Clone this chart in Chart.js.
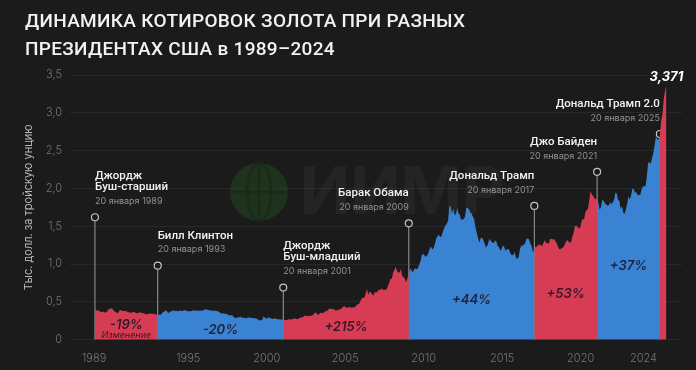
<!DOCTYPE html>
<html>
<head>
<meta charset="utf-8">
<script src="https://cdn.jsdelivr.net/npm/chart.js@4.4.1/dist/chart.umd.min.js"></script>
<style>
  html, body { margin: 0; padding: 0; background: #1b1b1b; }
  #wrap { position: relative; width: 696px; height: 370px; overflow: hidden; }
  #title {
    position: absolute; left: 25px; top: 7px;
    color: #f2f2f2; font-family: Roboto, sans-serif; font-weight: 500;
    font-size: 19px; line-height: 28px; letter-spacing: 0.3px;
  }
  canvas { position: absolute; left: 0; top: 0; }
</style>
</head>
<body>
<div id="wrap">
  <canvas id="chart" width="696" height="370"></canvas>
  <div id="title">ДИНАМИКА КОТИРОВОК ЗОЛОТА ПРИ РАЗНЫХ<br>ПРЕЗИДЕНТАХ США в 1989–2024</div>
</div>
<script>
// gold, USD per troy ounce, monthly, starting January 1989
const firstYear = 1989;
const goldMonthly = [
  404, 388, 390, 384, 371, 367, 375, 365, 362, 367, 394, 409, // 1989
  410, 416, 393, 374, 369, 352, 362, 395, 389, 380, 381, 378, // 1990
  384, 364, 363, 358, 357, 367, 368, 357, 349, 358, 360, 361, // 1991
  354, 354, 345, 338, 337, 341, 352, 343, 345, 344, 335, 334, // 1992
  329, 330, 330, 342, 367, 371, 392, 379, 355, 364, 374, 383, // 1993
  387, 382, 384, 377, 381, 385, 385, 380, 391, 389, 384, 379, // 1994
  379, 376, 382, 391, 385, 387, 386, 383, 383, 383, 386, 387, // 1995
  400, 405, 396, 393, 392, 385, 383, 387, 383, 381, 378, 369, // 1996
  355, 347, 352, 344, 344, 341, 324, 324, 323, 325, 306, 289, // 1997
  289, 297, 296, 308, 299, 292, 293, 284, 289, 296, 294, 291, // 1998
  287, 288, 286, 282, 277, 262, 256, 257, 265, 311, 293, 283, // 1999
  284, 300, 286, 280, 275, 285, 282, 274, 273, 270, 266, 272, // 2000
  265, 262, 263, 261, 272, 270, 268, 273, 283, 283, 276, 276, // 2001
  282, 296, 294, 302, 314, 322, 314, 310, 319, 317, 319, 333, // 2002
  357, 359, 340, 328, 355, 356, 351, 360, 379, 379, 389, 407, // 2003
  414, 405, 406, 404, 384, 392, 398, 400, 406, 420, 439, 442, // 2004
  424, 423, 434, 429, 422, 430, 425, 438, 456, 470, 476, 510, // 2005
  549, 555, 557, 610, 676, 596, 633, 632, 598, 586, 628, 629, // 2006
  631, 665, 655, 679, 667, 655, 665, 665, 712, 754, 806, 803, // 2007
  889, 922, 968, 909, 888, 889, 939, 839, 829, 806, 760, 816, // 2008
  858, 943, 924, 890, 928, 946, 934, 949, 996, 1043, 1127, 1135, // 2009
  1118, 1095, 1113, 1148, 1205, 1232, 1193, 1215, 1271, 1343, 1370, 1391, // 2010
  1356, 1372, 1424, 1473, 1510, 1529, 1572, 1755, 1771, 1665, 1739, 1652, // 2011
  1656, 1742, 1674, 1649, 1585, 1596, 1594, 1630, 1744, 1747, 1721, 1684, // 2012
  1671, 1627, 1593, 1487, 1414, 1343, 1286, 1347, 1348, 1316, 1275, 1221, // 2013
  1244, 1300, 1336, 1299, 1287, 1279, 1311, 1296, 1239, 1222, 1176, 1200, // 2014
  1250, 1227, 1178, 1198, 1199, 1181, 1131, 1117, 1125, 1159, 1086, 1068, // 2015
  1097, 1199, 1245, 1242, 1260, 1276, 1337, 1340, 1326, 1267, 1236, 1152, // 2016
  1192, 1234, 1231, 1266, 1246, 1260, 1236, 1283, 1315, 1279, 1282, 1265, // 2017
  1331, 1331, 1325, 1335, 1303, 1282, 1238, 1201, 1198, 1215, 1221, 1250, // 2018
  1291, 1320, 1301, 1286, 1284, 1359, 1413, 1500, 1510, 1495, 1471, 1479, // 2019
  1560, 1597, 1591, 1683, 1715, 1732, 1847, 1968, 1921, 1900, 1866, 1858, // 2020
  1867, 1808, 1718, 1760, 1851, 1834, 1807, 1785, 1776, 1777, 1821, 1790, // 2021
  1817, 1856, 1948, 1937, 1848, 1837, 1733, 1764, 1681, 1664, 1726, 1798, // 2022
  1898, 1854, 1912, 2000, 1992, 1943, 1951, 1918, 1915, 1916, 1986, 2026, // 2023
  2034, 2024, 2159, 2332, 2351, 2326, 2399, 2470, 2571, 2691, 2651, 2647, // 2024
  2709, 2895, 2984, 3193, 3288, 3371                                      // 2025
];

const presidents = [
  ['Джордж', 'Буш-старший'], ['Билл Клинтон'], ['Джордж', 'Буш-младший'],
  ['Барак Обама'], ['Дональд Трамп'], ['Джо Байден'], ['Дональд Трамп 2.0']
];
const inaugurations = ['20 января 1989', '20 января 1993', '20 января 2001', '20 января 2009',
  '20 января 2017', '20 января 2021', '20 января 2025'];
const termStarts = [1989.05, 1993.05, 2001.05, 2009.05, 2017.05, 2021.05, 2025.05];
const markerTops = [1.62, 0.98, 0.69, 1.54, 1.77, 2.22, 2.72];
const termChanges = ['-19%', '-20%', '+215%', '+44%', '+53%', '+37%', ''];
const changeLabelY = [0.2, 0.13, 0.17, 0.53, 0.6, 0.97, 0];
const tickYears = [1989, 1995, 2000, 2005, 2010, 2015, 2020, 2024];

const RED = '#d73c55';
const BLUE = '#3a82d2';
const BG = '#1b1b1b';

// monthly point sits near the 20th of each month
const points = goldMonthly.map((v, i) => ({ x: firstYear + (i + 0.6) / 12, y: v / 1000 }));

const datasets = [];
termStarts.forEach((start, k) => {
  const end = k + 1 < termStarts.length ? termStarts[k + 1] : Infinity;
  datasets.push({
    type: 'line',
    data: points.filter(p => p.x >= start - 1e-6 && p.x <= end + 1e-6),
    backgroundColor: k % 2 === 0 ? RED : BLUE,
    borderWidth: 0,
    pointRadius: 0,
    fill: 'origin',
    tension: 0,
    order: 1
  });
});
termStarts.forEach((start, k) => {
  datasets.push({
    type: 'line',
    data: [{ x: start, y: 0 }, { x: start, y: markerTops[k] }],
    borderColor: '#9c9c9c',
    borderWidth: 1,
    pointRadius: [0, 3.5],
    pointBackgroundColor: BG,
    pointBorderColor: '#c4c4c4',
    pointBorderWidth: 1.2,
    fill: false,
    order: 2
  });
});

const fmt = v => v === 0 ? '0' : v.toFixed(1).replace('.', ',');

const annotate = {
  id: 'annotate',
  beforeDatasetsDraw(chart) {
    // faint logo watermark
    const ctx = chart.ctx;
    ctx.save();
    ctx.fillStyle = 'rgba(35,80,35,0.45)';
    ctx.beginPath();
    ctx.arc(259, 192, 29, 0, Math.PI * 2);
    ctx.fill();
    ctx.strokeStyle = 'rgba(20,40,20,0.6)';
    ctx.lineWidth = 3;
    ctx.beginPath();
    ctx.ellipse(259, 192, 12, 29, 0, 0, Math.PI * 2);
    ctx.moveTo(230, 192); ctx.lineTo(288, 192);
    ctx.moveTo(259, 163); ctx.lineTo(259, 221);
    ctx.stroke();
    ctx.fillStyle = 'rgba(255,255,255,0.045)';
    ctx.font = '700 66px Inter, sans-serif';
    ctx.textBaseline = 'middle';
    ctx.fillText('ИИМР', 300, 194);
    ctx.restore();
  },
  afterDatasetsDraw(chart) {
    const { ctx, scales: { x, y } } = chart;
    ctx.save();
    termStarts.forEach((start, k) => {
      const px = x.getPixelForValue(start);
      const cy = y.getPixelForValue(markerTops[k]);
      const align = k < 3 ? 'left' : 'right';
      ctx.textAlign = align;
      ctx.textBaseline = 'middle';
      ctx.fillStyle = '#929292';
      ctx.font = '400 9px Inter, sans-serif';
      ctx.fillText(inaugurations[k], px, cy - 16);
      ctx.fillStyle = '#f2f2f2';
      ctx.font = '500 11.5px Roboto, sans-serif';
      const lines = presidents[k];
      lines.forEach((t, j) => {
        ctx.fillText(t, px, cy - 30 - (lines.length - 1 - j) * 11);
      });
      if (termChanges[k]) {
        const end = k + 1 < termStarts.length ? termStarts[k + 1] : start;
        const mx = x.getPixelForValue((start + end) / 2);
        const my = y.getPixelForValue(changeLabelY[k]);
        ctx.textAlign = 'center';
        ctx.fillStyle = 'rgba(22,18,30,0.85)';
        ctx.font = 'italic 600 13px Inter, sans-serif';
        ctx.fillText(termChanges[k], mx, my);
        if (k === 0) {
          ctx.font = 'italic 400 9px Inter, sans-serif';
          ctx.fillText('Изменение', mx, my + 11);
        }
      }
    });
    const last = points[points.length - 1];
    ctx.textAlign = 'center';
    ctx.fillStyle = '#ffffff';
    ctx.font = 'italic 700 13px Inter, sans-serif';
    ctx.fillText(last.y.toFixed(3).replace('.', ','), x.getPixelForValue(last.x), y.getPixelForValue(last.y) - 8);
    ctx.restore();
  }
};

new Chart(document.getElementById('chart'), {
  type: 'line',
  data: { datasets },
  plugins: [annotate],
  options: {
    responsive: false,
    animation: false,
    devicePixelRatio: 1,
    layout: { padding: { top: 75, right: 14, bottom: 1, left: 22 } },
    plugins: { legend: { display: false }, tooltip: { enabled: false } },
    scales: {
      x: {
        type: 'linear',
        min: 1987.46,
        max: 2026.46,
        afterBuildTicks: axis => { axis.ticks = tickYears.map(v => ({ value: v })); },
        ticks: {
          callback: v => String(v),
          color: '#767676',
          font: { family: 'Inter', size: 11, weight: 300 },
          padding: 4,
          maxRotation: 0
        },
        grid: { display: false },
        border: { display: false }
      },
      y: {
        min: 0,
        max: 3.5,
        afterFit: s => { s.width = 48; },
        ticks: {
          stepSize: 0.5,
          callback: v => fmt(v),
          color: '#767676',
          font: { family: 'Inter', size: 11, weight: 300 },
          padding: 8
        },
        grid: { color: 'rgba(255,255,255,0.06)', drawTicks: false },
        border: { display: false },
        title: {
          display: true,
          text: 'Тыс. долл. за тройскую унцию',
          color: '#b8b8b8',
          font: { family: 'Inter', size: 11 },
          padding: 0
        }
      }
    }
  }
});
</script>
</body>
</html>
